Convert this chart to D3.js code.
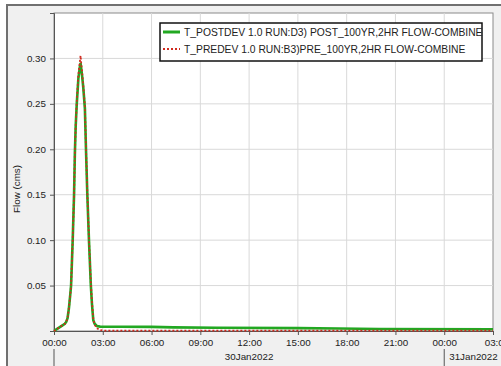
<!DOCTYPE html>
<html lang="en">
<head>
<meta charset="utf-8">
<title>Flow hydrograph</title>
<script src="https://d3js.org/d3.v7.min.js"></script>
<style>
  body { margin: 0; background: #fff; }
  text { font-family: "Liberation Sans", Arial, sans-serif; fill: #222; }
</style>
</head>
<body>
<script>
// minutes after 30Jan2022 00:00
const timesMin = [0, 10, 20, 30, 40, 45, 50, 55, 60, 63, 66, 69, 72, 74, 77, 80, 84, 90, 96, 98,
                  100, 104, 108, 114, 118, 123, 129, 136, 140, 145, 150, 158, 170, 180, 240, 360,
                  440, 600, 900, 1050, 1200, 1620];
const postFlow = [0.000, 0.002, 0.004, 0.006, 0.008, 0.010, 0.014, 0.025, 0.040, 0.050, 0.075, 0.100,
                  0.130, 0.150, 0.195, 0.225, 0.250, 0.278, 0.292, 0.295, 0.290, 0.280, 0.268, 0.245,
                  0.200, 0.150, 0.100, 0.050, 0.030, 0.012, 0.008, 0.0055, 0.0048, 0.0047, 0.0046,
                  0.0045, 0.0040, 0.0036, 0.0032, 0.0028, 0.0022, 0.0020];
const preFlow  = [0.000, 0.002, 0.004, 0.006, 0.008, 0.010, 0.014, 0.025, 0.040, 0.050, 0.075, 0.100,
                  0.130, 0.150, 0.195, 0.225, 0.252, 0.282, 0.298, 0.303, 0.296, 0.284, 0.270, 0.247,
                  0.202, 0.152, 0.102, 0.052, 0.032, 0.013, 0.007, 0.003, 0.001, 0.0005, 0.0005,
                  0.0005, 0.0005, 0.0005, 0.0005, 0.0005, 0.0005, 0.0005];
const yTicks = [0.05, 0.10, 0.15, 0.20, 0.25, 0.30];
const seriesNames = ["T_POSTDEV 1.0 RUN:D3) POST_100YR,2HR FLOW-COMBINE",
                     "T_PREDEV 1.0 RUN:B3)PRE_100YR,2HR FLOW-COMBINE"];
const dateLabels = ["30Jan2022", "31Jan2022"];

const W = 501, H = 366;
const pLeft = 54, pRight = 493, pTop = 13, pBottom = 331;
const t0 = Date.UTC(2022, 0, 30, 0, 0);
const toDate = m => new Date(t0 + m * 60000);

const x = d3.scaleUtc()
  .domain([toDate(0), toDate(27 * 60)])
  .range([pLeft, pRight]);
const y = d3.scaleLinear().domain([0, 0.35]).range([pBottom, pTop]);

const svg = d3.select("body").append("svg").attr("width", W).attr("height", H);

// outer panel
svg.append("rect").attr("x", 7).attr("y", 5).attr("width", W + 10).attr("height", H + 10)
  .attr("fill", "#f0f0f0").attr("stroke", "#707070").attr("stroke-width", 2);

// plot area
svg.append("rect").attr("x", pLeft).attr("y", pTop).attr("width", pRight - pLeft).attr("height", pBottom - pTop)
  .attr("fill", "#fff").attr("stroke", "#8a8a8a").attr("stroke-width", 1);

const xTickVals = d3.range(0, 28 * 60, 180).map(toDate);

// grid
svg.append("g").selectAll("line").data(xTickVals.slice(1, -1)).join("line")
  .attr("x1", d => x(d)).attr("x2", d => x(d)).attr("y1", pTop).attr("y2", pBottom)
  .attr("stroke", "#d9d9d9");
svg.append("g").selectAll("line").data(yTicks).join("line")
  .attr("x1", pLeft).attr("x2", pRight).attr("y1", d => y(d)).attr("y2", d => y(d))
  .attr("stroke", "#d9d9d9");

// axes
const yAxis = d3.axisLeft(y).tickValues(yTicks).tickFormat(d3.format(".2f")).tickSize(4).tickPadding(4);
const gy = svg.append("g").attr("transform", `translate(${pLeft},0)`).call(yAxis);
const xAxis = d3.axisBottom(x).tickValues(xTickVals).tickFormat(d3.utcFormat("%H:%M")).tickSize(4).tickPadding(4);
const gx = svg.append("g").attr("transform", `translate(0,${pBottom})`).call(xAxis);
[gx, gy].forEach(g => {
  g.select(".domain").attr("stroke", "#555");
  g.selectAll(".tick line").attr("stroke", "#555");
  g.selectAll("text").attr("font-size", 9.8).attr("fill", "#222")
    .attr("font-family", '"Liberation Sans", Arial, sans-serif');
});
// last tick label runs past the window edge, as in the source
gx.selectAll(".tick:last-child text").attr("text-anchor", "start").attr("dx", "-0.9em");

// date row
svg.append("text").attr("x", x(toDate(12 * 60))).attr("y", 360).attr("text-anchor", "middle")
  .attr("font-size", 9.8).text(dateLabels[0]);
svg.append("text").attr("x", x(toDate(24 * 60)) + 5).attr("y", 360)
  .attr("font-size", 9.8).text(dateLabels[1]);
[0, 24 * 60].forEach(m => {
  svg.append("line").attr("x1", x(toDate(m))).attr("x2", x(toDate(m)))
    .attr("y1", 349).attr("y2", 366).attr("stroke", "#555");
});

// y label
svg.append("text").attr("transform", `translate(20,${(pTop + pBottom) / 2 + 17}) rotate(-90)`)
  .attr("text-anchor", "middle").attr("font-size", 9.8).text("Flow (cms)");

// series
const line = d3.line().x((d, i) => x(toDate(timesMin[i]))).y(d => y(d));
svg.append("path").datum(postFlow).attr("d", line)
  .attr("fill", "none").attr("stroke", "#22a822").attr("stroke-width", 2.6);
svg.append("path").datum(preFlow).attr("d", line)
  .attr("fill", "none").attr("stroke", "#d02a1e").attr("stroke-width", 1.8)
  .attr("stroke-dasharray", "2,2");

// legend
const lg = svg.append("g");
lg.append("rect").attr("x", 160).attr("y", 23).attr("width", 322).attr("height", 38)
  .attr("fill", "#fff").attr("stroke", "#111").attr("stroke-width", 1.5);
lg.append("line").attr("x1", 163).attr("x2", 180).attr("y1", 32).attr("y2", 32)
  .attr("stroke", "#22a822").attr("stroke-width", 3);
lg.append("line").attr("x1", 163).attr("x2", 180).attr("y1", 49).attr("y2", 49)
  .attr("stroke", "#d02a1e").attr("stroke-width", 1.8).attr("stroke-dasharray", "2,2");
seriesNames.forEach((s, i) => {
  lg.append("text").attr("x", 184).attr("y", 36 + i * 17).attr("font-size", 10.3).text(s);
});
</script>
</body>
</html>
